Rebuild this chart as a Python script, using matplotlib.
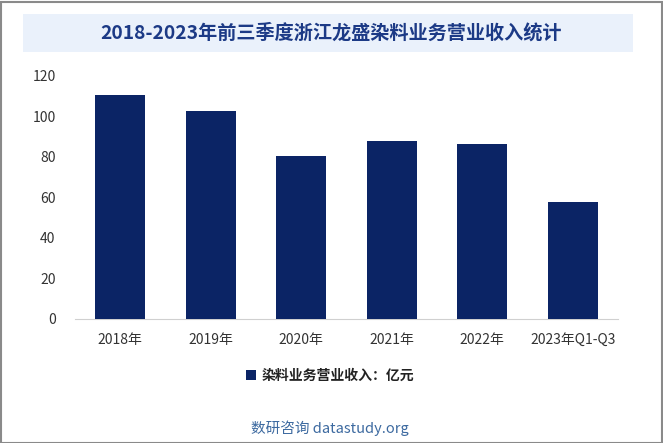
import matplotlib
matplotlib.use("Agg")
import matplotlib.pyplot as plt
from matplotlib.patches import Rectangle

plt.rcParams['font.family'] = ['Noto Sans CJK SC', 'DejaVu Sans']

categories = ['2018年', '2019年', '2020年', '2021年', '2022年', '2023年Q1-Q3']
values = [110.6, 102.7, 80.5, 87.9, 86.4, 57.8]
yticks = [0, 20, 40, 60, 80, 100, 120]
title = '2018-2023年前三季度浙江龙盛染料业务营业收入统计'
legend_label = '染料业务营业收入：亿元'
footer = '数研咨询 datastudy.org'

W, H = 663, 443
fig = plt.figure(figsize=(W/100, H/100), dpi=100)
fig.patch.set_facecolor('white')

# border
fig.add_artist(Rectangle((0.5/W, 0.5/H), 1 - 2/W, 1 - 2/H, transform=fig.transFigure,
                         fill=False, edgecolor='#8a8a8a', linewidth=1.5))
# title box
fig.add_artist(Rectangle((23/W, 1 - 52/H), 610/W, 38/H, transform=fig.transFigure,
                         facecolor='#eaf1fb', edgecolor='none'))
fig.text(331/W, 1 - 33/H, title, ha='center', va='center', fontsize=13.8,
         fontweight='bold', color='#1c3a86')

ax = fig.add_axes([75/W, 1 - 319/H, 543/W, 243/H])
x = range(len(categories))
ax.bar(x, values, width=0.55, color='#0b2465', label=legend_label, zorder=3)
ax.set_ylim(0, 120)
ax.set_xlim(-0.5, len(categories) - 0.5)
ax.set_yticks(yticks)
ax.set_xticks(list(x))
ax.set_xticklabels(categories)
for s in ['top', 'right', 'left']:
    ax.spines[s].set_visible(False)
ax.spines['bottom'].set_color('#d0d0d0')
ax.tick_params(axis='both', length=0, labelsize=10, colors='#333333')
ax.tick_params(axis='y', pad=14)
ax.tick_params(axis='x', pad=10)
ax.set_facecolor('white')

leg = fig.legend(loc='center', bbox_to_anchor=(330/W, 1 - 376/H), frameon=False,
                 prop={'size': 10, 'weight': 'bold'}, handlelength=0.7, handleheight=0.7,
                 handletextpad=0.4)
for t in leg.get_texts():
    t.set_color('#222222')

fig.text(330/W, 1 - 428/H, footer, ha='center', va='center', fontsize=10.5, color='#3d6aa0')

fig.savefig('out.png', dpi=100)
